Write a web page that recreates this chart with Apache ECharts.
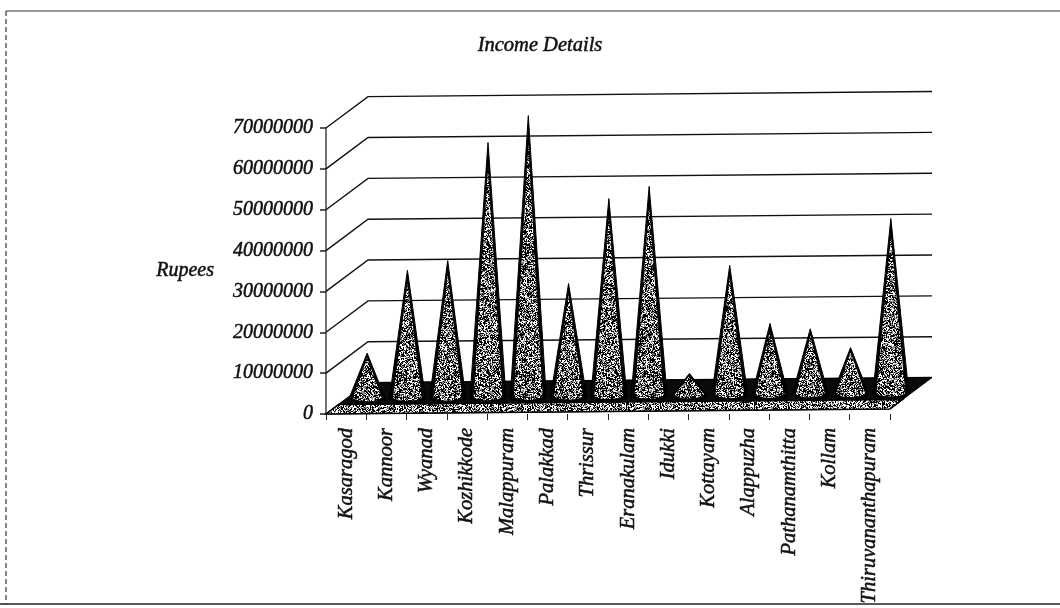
<!DOCTYPE html>
<html>
<head>
<meta charset="utf-8">
<style>
  html, body { margin: 0; padding: 0; background: #fff; }
  #chart { width: 1060px; height: 608px; }
</style>
<script src="https://cdn.jsdelivr.net/npm/echarts@6/dist/echarts.min.js"></script>
</head>
<body>
<div id="chart"></div>
<script>
const categories = ['Kasaragod', 'Kannoor', 'Wyanad', 'Kozhikkode', 'Malappuram', 'Palakkad', 'Thrissur',
  'Eranakulam', 'Idukki', 'Kottayam', 'Alappuzha', 'Pathanamthitta', 'Kollam', 'Thiruvananthapuram']
const income = [11000000, 31200000, 33500000, 62300000, 68800000, 27600000, 48300000,
  51200000, 5300000, 31700000, 17400000, 16000000, 11300000, 42800000]
const yTicks = [0, 10000000, 20000000, 30000000, 40000000, 50000000, 60000000, 70000000]

const serif = '"Liberation Serif", serif'
const inkText = {fontFamily: serif, fontStyle: 'italic', color: '#111', textBorderColor: '#111', textBorderWidth: 0.5}
const depthX = 42, depthY = -31
const tilt = 0.009
const coneHalf = 18, coneRy = 6

// speckle like the scanned halftone
const speckle = function (size, white, black, dot) {
  const c = document.createElement('canvas')
  c.width = c.height = size
  const ctx = c.getContext('2d')
  let seed = 12345
  const next = function () {
    seed = (seed * 1103515 + 12345) % 2147483648
    return seed / 2147483648
  }
  for (let y = 0; y < size; y += dot) {
    for (let x = 0; x < size; x += dot) {
      const r = next()
      ctx.fillStyle = r < white ? '#fff' : r < white + black ? '#000' : '#888'
      ctx.fillRect(x, y, dot, dot)
    }
  }
  return c
}
const conePattern = {image: speckle(128, 0.3, 0.45, 1), repeat: 'repeat'}
const floorPattern = {image: speckle(128, 0.38, 0.42, 1), repeat: 'repeat'}

const project = function (api, p) {
  const x0 = api.coord([0, 0])[0] - api.size([1, 0])[0] / 2
  return [p[0], p[1] - (p[0] - x0) * tilt]
}

// back wall lines, with the slanted piece on the side wall
const renderWall = function (params, api) {
  const band = api.size([1, 0])[0]
  const left = api.coord([0, api.value(1)])
  const right = api.coord([categories.length - 1, api.value(1)])
  const a = [left[0] - band / 2, left[1]]
  const b = [a[0] + depthX, a[1] + depthY]
  const c = [right[0] + band / 2 + depthX, right[1] + depthY]
  return {
    type: 'polyline',
    shape: {points: [a, b, c].map(p => project(api, p))},
    style: {fill: null, stroke: '#111', lineWidth: 1.4}
  }
}

const renderFloor = function (params, api) {
  const band = api.size([1, 0])[0]
  const left = api.coord([0, 0])
  const right = api.coord([categories.length - 1, 0])
  const a = [left[0] - band / 2, left[1]]
  const b = [right[0] + band / 2, right[1]]
  const c = [b[0] + depthX, b[1] + depthY]
  const d = [a[0] + depthX, a[1] + depthY]
  const band1 = [a[0] + depthX * 0.3, a[1] + depthY * 0.3]
  const band2 = [b[0] + depthX * 0.3, b[1] + depthY * 0.3]
  return {
    type: 'group',
    children: [
      {
        type: 'polygon',
        shape: {points: [a, b, c, d].map(p => project(api, p))},
        style: {fill: '#0a0a0a', stroke: '#000', lineWidth: 1}
      },
      {
        type: 'polygon',
        shape: {points: [a, b, band2, band1].map(p => project(api, p))},
        style: {fill: floorPattern, stroke: '#000', lineWidth: 1.5}
      }
    ]
  }
}

// cone outline: apex plus the front half of the base ellipse
const conePoints = function (cx, cy, apexY, halfW, ry) {
  const pts = [[cx, apexY]]
  for (let i = 0; i <= 24; i++) {
    const t = Math.PI * i / 24
    pts.push([cx + halfW * Math.cos(t), cy + ry * Math.sin(t)])
  }
  return pts
}

const renderCone = function (params, api) {
  const top = api.coord([api.value(0), api.value(1)])
  const base = api.coord([api.value(0), 0])
  const cx = base[0] + depthX / 2
  const cy = base[1] + depthY / 2
  const apexY = top[1] + depthY / 2
  const innerApex = apexY + (cy - apexY) * 0.1
  const outer = conePoints(cx, cy, apexY, coneHalf, coneRy).map(p => project(api, p))
  const inner = conePoints(cx, cy - 1, innerApex, coneHalf * 0.8, coneRy * 0.7).map(p => project(api, p))
  return {
    type: 'group',
    children: [
      {type: 'polygon', shape: {points: outer}, style: {fill: '#000', stroke: '#000', lineWidth: 1}},
      {type: 'polygon', shape: {points: inner}, style: {fill: conePattern}}
    ]
  }
}

const chart = echarts.init(document.getElementById('chart'))
chart.setOption({
  animation: false,
  backgroundColor: '#fff',
  title: {
    text: 'Income Details',
    left: 535,
    top: 31,
    textAlign: 'center',
    textStyle: {...inkText, fontWeight: 'normal', fontSize: 20.5}
  },
  grid: {left: 326, right: 170, top: 128, bottom: 194},
  xAxis: {
    type: 'category',
    data: categories,
    axisLine: {show: false},
    axisTick: {show: true, length: 6, lineStyle: {color: '#222', width: 1}},
    axisLabel: {
      ...inkText,
      interval: 0,
      rotate: 90,
      margin: 14,
      fontWeight: 'normal',
      fontSize: 20.5
    }
  },
  yAxis: {
    type: 'value',
    min: 0,
    max: 70000000,
    interval: 10000000,
    name: 'Rupees',
    nameLocation: 'middle',
    nameRotate: 0,
    nameGap: 112,
    nameTextStyle: {...inkText, fontWeight: 'normal', fontSize: 20},
    axisLine: {show: true, lineStyle: {color: '#444', width: 1.5}},
    axisTick: {show: true, length: 6, lineStyle: {color: '#222', width: 1.5}},
    splitLine: {show: false},
    axisLabel: {
      ...inkText,
      margin: 13,
      fontWeight: 'normal',
      fontSize: 20,
      formatter: function (v) {
        return String(v)
      }
    }
  },
  series: [
    {type: 'custom', z: 1, silent: true, clip: false, renderItem: renderWall, data: yTicks.map(v => [0, v])},
    {type: 'custom', z: 2, silent: true, clip: false, renderItem: renderFloor, data: [[0, 0]]},
    {type: 'custom', z: 3, silent: true, clip: false, renderItem: renderCone, data: income.map((v, i) => [i, v])}
  ],
  graphic: [
    {type: 'line', shape: {x1: 6, y1: 11, x2: 1060, y2: 11}, style: {stroke: '#333', lineWidth: 1.2}},
    {type: 'line', shape: {x1: 6, y1: 11, x2: 6, y2: 604}, style: {stroke: '#333', lineWidth: 1.2, lineDash: [5, 3]}},
    {type: 'line', shape: {x1: 0, y1: 604, x2: 1060, y2: 604}, style: {stroke: '#222', lineWidth: 1.4}}
  ]
})
</script>
</body>
</html>
